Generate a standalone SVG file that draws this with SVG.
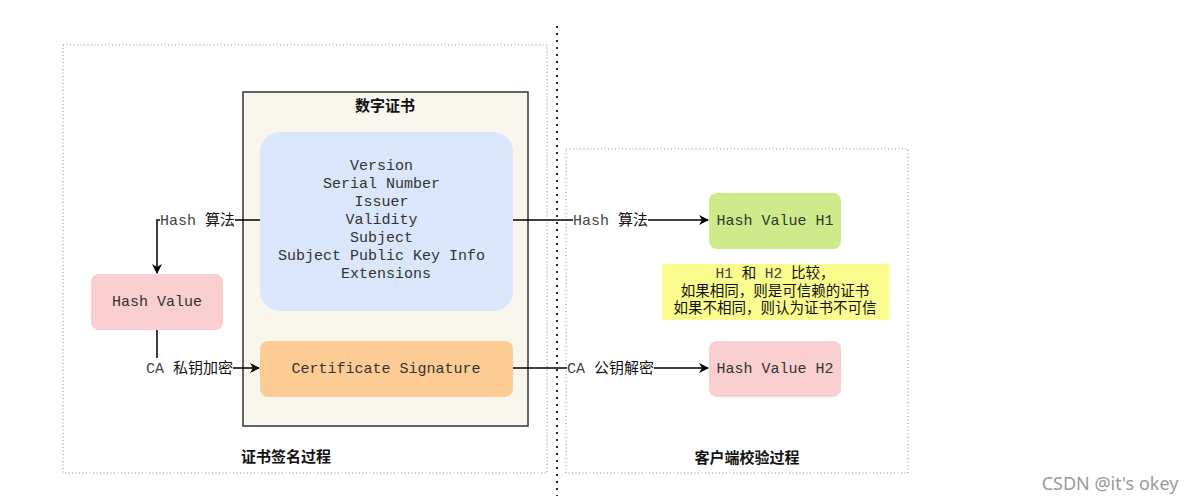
<svg xmlns="http://www.w3.org/2000/svg" width="1198" height="503" viewBox="0 0 1198 503">
<defs>
<marker id="arr" viewBox="0 0 10 10" refX="9" refY="5" markerWidth="10" markerHeight="10" markerUnits="userSpaceOnUse" orient="auto">
<path d="M0,0 L10,5 L0,10 L3,5 Z" fill="#000"/>
</marker>
<style>
.group{fill:none;stroke:#8a8a8a;stroke-width:1;stroke-dasharray:1 2.5}
.mono{font-family:"Liberation Mono","Courier New",monospace;font-size:15px;fill:#333}
.cjk{font-family:"Noto Sans CJK SC","Noto Sans",sans-serif;font-size:15px;fill:#111}
.ncjk{font-family:"Noto Sans CJK SC","Noto Sans",sans-serif;font-size:14.5px;fill:#111}
.title{font-family:"Noto Sans CJK SC","Noto Sans",sans-serif;font-size:15px;font-weight:bold;fill:#111}
.edge{fill:none;stroke:#000;stroke-width:1.5}
.lbl{fill:#fff}
.lm{font-family:"Liberation Mono","Courier New",monospace;font-size:15px;fill:#444}
.nm{font-family:"Liberation Mono","Courier New",monospace;font-size:14.5px;fill:#444}
</style>
</defs>
<rect width="1198" height="503" fill="#fff"/>

<g id="separator">
<line x1="557" y1="26" x2="557" y2="496" stroke="#222" stroke-width="2" stroke-dasharray="2 5"/>
</g>

<g id="sign-group">
<rect class="group" x="63" y="45" width="484" height="428"/>
<text class="title" x="286" y="462" text-anchor="middle">证书签名过程</text>
</g>

<g id="verify-group">
<rect class="group" x="566" y="149" width="342" height="324"/>
<text class="title" x="747" y="463" text-anchor="middle">客户端校验过程</text>
</g>

<g id="certificate">
<rect x="243" y="92" width="285" height="334" fill="#f9f6ee" stroke="#333" stroke-width="1.5"/>
<text class="title" x="385" y="111" text-anchor="middle">数字证书</text>
</g>

<g id="cert-fields">
<rect x="260" y="132" width="253" height="179" rx="20" fill="#dae6fb"/>
<text class="mono" text-anchor="middle">
<tspan x="386" y="170">Version</tspan>
<tspan x="386" y="188">Serial Number</tspan>
<tspan x="386" y="206">Issuer</tspan>
<tspan x="386" y="224">Validity</tspan>
<tspan x="386" y="242">Subject</tspan>
<tspan x="386" y="260">Subject Public Key Info</tspan>
<tspan x="386" y="278">Extensions</tspan>
</text>
</g>

<g id="cert-signature">
<rect x="260" y="341" width="253" height="56" rx="8" fill="#fdcb94"/>
<text class="mono" x="386" y="373" text-anchor="middle">Certificate Signature</text>
</g>

<g id="hash-value">
<rect x="91" y="274" width="132" height="56" rx="8" fill="#f9cfcf"/>
<text class="mono" x="157" y="306" text-anchor="middle">Hash Value</text>
</g>

<g id="hash-h1">
<rect x="709" y="193" width="132" height="56" rx="8" fill="#cdeb8b"/>
<text class="mono" x="775" y="225" text-anchor="middle">Hash Value H1</text>
</g>

<g id="hash-h2">
<rect x="709" y="341" width="132" height="56" rx="8" fill="#f9cfcf"/>
<text class="mono" x="775" y="373" text-anchor="middle">Hash Value H2</text>
</g>

<g id="compare-note">
<rect x="662" y="264" width="227" height="56" fill="#fbfc8e"/>
<text x="775" y="278" text-anchor="middle"><tspan class="nm">H1 </tspan><tspan class="ncjk">和</tspan><tspan class="nm"> H2 </tspan><tspan class="ncjk">比较，</tspan></text>
<text class="ncjk" x="775" y="295.5" text-anchor="middle">如果相同，则是可信赖的证书</text>
<text class="ncjk" x="775" y="313" text-anchor="middle">如果不相同，则认为证书不可信</text>
</g>

<g id="connectors">
<path class="edge" d="M260,220 H157 V273" marker-end="url(#arr)"/>
<path class="edge" d="M157,330 V368 H259" marker-end="url(#arr)"/>
<path class="edge" d="M513,220 H708" marker-end="url(#arr)"/>
<path class="edge" d="M513,368 H708" marker-end="url(#arr)"/>

<rect class="lbl" x="160" y="211" width="75" height="18"/>
<text x="160" y="225"><tspan class="lm">Hash </tspan><tspan class="cjk">算法</tspan></text>

<rect class="lbl" x="146" y="358" width="87" height="19"/>
<text x="146" y="373"><tspan class="lm">CA </tspan><tspan class="cjk">私钥加密</tspan></text>

<rect class="lbl" x="573" y="211" width="75" height="18"/>
<text x="573" y="225"><tspan class="lm">Hash </tspan><tspan class="cjk">算法</tspan></text>

<rect class="lbl" x="567" y="358" width="87" height="19"/>
<text x="567" y="373"><tspan class="lm">CA </tspan><tspan class="cjk">公钥解密</tspan></text>
</g>

<text x="1110" y="490" text-anchor="middle" font-family="'Noto Sans',sans-serif" font-size="18" fill="#9a9a9a">CSDN @it's okey</text>
</svg>
